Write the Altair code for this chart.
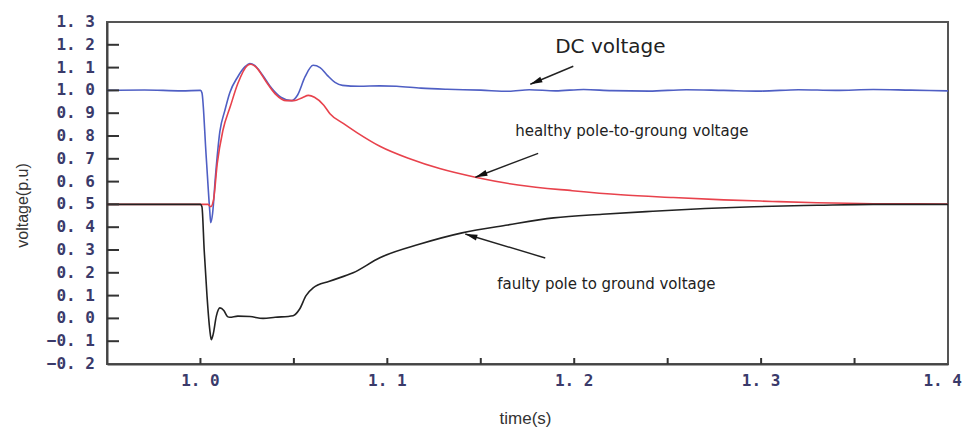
import altair as alt
import pandas as pd

# ---- data ----
dc_t = [0.95, 0.97, 0.99, 1.0, 1.0008, 1.003, 1.005, 1.0055, 1.0065, 1.008, 1.0104, 1.013, 1.0157,
        1.02, 1.024, 1.0264, 1.029, 1.033, 1.038, 1.043, 1.0487, 1.052, 1.056, 1.0603, 1.064, 1.068,
        1.072, 1.076, 1.085, 1.096, 1.105, 1.118, 1.132, 1.15, 1.165, 1.176, 1.19, 1.205, 1.22, 1.24,
        1.26, 1.28, 1.3, 1.32, 1.34, 1.36, 1.38, 1.4]
dc_v = [1.0, 1.002, 0.998, 1.0, 0.99, 0.72, 0.47, 0.42, 0.46, 0.62, 0.82, 0.91, 0.99,
        1.06, 1.105, 1.118, 1.11, 1.07, 1.01, 0.97, 0.955, 0.98, 1.06, 1.11, 1.1, 1.065,
        1.035, 1.022, 1.018, 1.02, 1.018, 1.01, 1.005, 1.001, 0.996, 1.003, 0.998, 1.004, 0.999, 0.997,
        1.003, 1.0, 0.997, 1.003, 1.0, 1.004, 1.001, 0.998]

hp_t = [0.95, 1.0, 1.004, 1.0055, 1.007, 1.009, 1.012, 1.016, 1.02, 1.0252, 1.027, 1.03, 1.035,
        1.04, 1.046, 1.05, 1.0545, 1.0578, 1.061, 1.066, 1.0693, 1.0764, 1.0837, 1.096, 1.112, 1.128,
        1.1477, 1.17, 1.199, 1.225, 1.253, 1.28, 1.306, 1.33, 1.36, 1.4]
hp_v = [0.5, 0.5, 0.5, 0.49, 0.52, 0.68, 0.824, 0.93, 1.03, 1.11, 1.115, 1.1, 1.04,
        0.985, 0.955, 0.955, 0.968, 0.978, 0.97, 0.935, 0.898, 0.855, 0.815, 0.755, 0.70, 0.657,
        0.618, 0.585, 0.56, 0.542, 0.53, 0.52, 0.513, 0.507, 0.503, 0.502]

fp_t = [0.95, 1.0, 1.0008, 1.002, 1.0035, 1.005, 1.0058, 1.0068, 1.0085, 1.0104, 1.0125, 1.0145,
        1.0157, 1.02, 1.0265, 1.0335, 1.04, 1.0496, 1.053, 1.0565, 1.0603, 1.069, 1.0817, 1.096,
        1.1175, 1.14, 1.1645, 1.189, 1.215, 1.242, 1.27, 1.296, 1.33, 1.36, 1.4]
fp_v = [0.5, 0.5, 0.49, 0.3, 0.1, -0.05, -0.093, -0.07, 0.01, 0.046, 0.035, 0.008,
        0.005, 0.01, 0.008, 0.0, 0.005, 0.012, 0.04, 0.1, 0.134, 0.163, 0.2, 0.266,
        0.326, 0.375, 0.41, 0.441, 0.457, 0.47, 0.482, 0.49, 0.496, 0.5, 0.5]

x_label_values = [1.0, 1.1, 1.2, 1.3, 1.4]
y_label_values = [-0.2, -0.1, 0.0, 0.1, 0.2, 0.3, 0.4, 0.5, 0.6, 0.7, 0.8, 0.9, 1.0, 1.1, 1.2, 1.3]
x_tick_values = [1.0, 1.05, 1.1, 1.15, 1.2, 1.25, 1.3, 1.35]
y_tick_values = [-0.1, 0.0, 0.1, 0.2, 0.3, 0.4, 0.5, 0.6, 0.7, 0.8, 0.9, 1.0, 1.1, 1.2]

ann_text = ["DC voltage", "healthy pole-to-groung voltage", "faulty pole to ground voltage"]
ann_tx = [1.1898, 1.1684, 1.1588]
ann_ty = [1.19, 0.824, 0.150]
ann_size = [20, 15, 15]
arrow_tail_t = [1.1995, 1.1807, 1.1845]
arrow_tail_v = [1.106, 0.724, 0.265]
arrow_tip_t = [1.1765, 1.1471, 1.1417]
arrow_tip_v = [1.027, 0.619, 0.370]
arrow_angle = [247, 249, 287]

series_names = ["DC voltage", "healthy pole", "faulty pole"]
series_colors = ["#4f5fc4", "#e8424c", "#222222"]

# ---- tables ----
rows = []
for name, ts, vs in zip(series_names, [dc_t, hp_t, fp_t], [dc_v, hp_v, fp_v]):
    for i, (t, v) in enumerate(zip(ts, vs)):
        rows.append({"series": name, "t": t, "v": v, "o": i})
df = pd.DataFrame(rows)

ann = pd.DataFrame({"text": ann_text, "t": ann_tx, "v": ann_ty, "size": ann_size})
arr = pd.DataFrame({"t": arrow_tail_t, "v": arrow_tail_v, "t2": arrow_tip_t, "v2": arrow_tip_v,
                    "angle": arrow_angle})
xt = pd.DataFrame({"t": x_tick_values})
yt = pd.DataFrame({"v": y_tick_values})
xl = pd.DataFrame({"t": x_label_values})
yl = pd.DataFrame({"v": y_label_values})

W, H = 841, 342
xs = alt.Scale(domain=[0.95, 1.4], nice=False, zero=False)
ys = alt.Scale(domain=[-0.2, 1.3], nice=False, zero=False)

fmt = "replace(format({}, '.1f'), '.', '. ')"
label_color = "#3a3a6a"
label_font = "DejaVu Sans Mono"

x_axis = alt.Axis(values=x_label_values, labels=False, ticks=False, grid=False, title="time(s)",
                  domainColor="#444444", domainWidth=2,
                  titleFont="Liberation Sans", titleFontSize=17, titleFontWeight="normal",
                  titleColor="#333333", titleX=418, titleY=54, titleBaseline="middle")
y_axis = alt.Axis(values=y_label_values, labels=False, ticks=False, grid=False, title="voltage(p.u)",
                  domainColor="#444444", domainWidth=2,
                  titleFont="Liberation Sans", titleFontSize=16, titleFontWeight="normal",
                  titleColor="#333333", titleX=-85, titleY=183, titleAngle=-90,
                  titleBaseline="middle", titleAlign="center")

lines = alt.Chart(df).mark_line(strokeWidth=1.6, interpolate="monotone").encode(
    x=alt.X("t:Q", scale=xs, axis=x_axis),
    y=alt.Y("v:Q", scale=ys, axis=y_axis),
    color=alt.Color("series:N", scale=alt.Scale(domain=series_names, range=series_colors), legend=None),
    order="o:Q",
)

xticks = alt.Chart(xt).mark_rule(color="#333333", strokeWidth=2).encode(
    x=alt.X("t:Q", scale=xs), y=alt.value(H), y2=alt.value(H - 6))
yticks = alt.Chart(yt).mark_rule(color="#333333", strokeWidth=2).encode(
    y=alt.Y("v:Q", scale=ys), x=alt.value(0), x2=alt.value(12))

ylabels = alt.Chart(yl).transform_calculate(lab=fmt.format("datum.v")).mark_text(
    align="right", baseline="middle", font=label_font, fontWeight="bold", fontSize=16,
    color=label_color).encode(y=alt.Y("v:Q", scale=ys), x=alt.value(-12), text="lab:N")

xlabels_mid = alt.Chart(xl).transform_filter("datum.t < 1.35").transform_calculate(
    lab=fmt.format("datum.t")).mark_text(
    align="center", baseline="middle", font=label_font, fontWeight="bold", fontSize=16,
    color=label_color).encode(x=alt.X("t:Q", scale=xs), y=alt.value(H + 17), text="lab:N")
xlabels_end = alt.Chart(xl).transform_filter("datum.t > 1.35").transform_calculate(
    lab=fmt.format("datum.t")).mark_text(
    align="right", baseline="middle", font=label_font, fontWeight="bold", fontSize=16,
    color=label_color, dx=14).encode(x=alt.X("t:Q", scale=xs), y=alt.value(H + 17), text="lab:N")

texts = alt.Chart(ann).mark_text(align="left", baseline="middle", font="DejaVu Sans",
                                 color="#222222").encode(
    x=alt.X("t:Q", scale=xs), y=alt.Y("v:Q", scale=ys), text="text:N",
    size=alt.Size("size:Q", scale=None, legend=None))

arrow_lines = alt.Chart(arr).mark_rule(color="#222222", strokeWidth=1.4).encode(
    x=alt.X("t:Q", scale=xs), y=alt.Y("v:Q", scale=ys), x2="t2:Q", y2="v2:Q")
arrow_heads = alt.Chart(arr).mark_point(shape="M0,0L0.45,1.8L-0.45,1.8Z", filled=True,
                                        color="#111111", opacity=1, size=180).encode(
    x=alt.X("t2:Q", scale=xs), y=alt.Y("v2:Q", scale=ys),
    angle=alt.Angle("angle:Q", scale=None))

chart = alt.layer(lines, xticks, yticks, ylabels, xlabels_mid, xlabels_end,
                  arrow_lines, arrow_heads, texts).properties(
    width=W, height=H,
    autosize=alt.AutoSizeParams(type="none"),
    padding={"left": 107, "top": 22, "right": 17, "bottom": 66},
    background="white",
).configure_view(stroke="#555555", strokeWidth=2)

chart.save("out.html", embed_options={"renderer": "svg", "actions": False})
